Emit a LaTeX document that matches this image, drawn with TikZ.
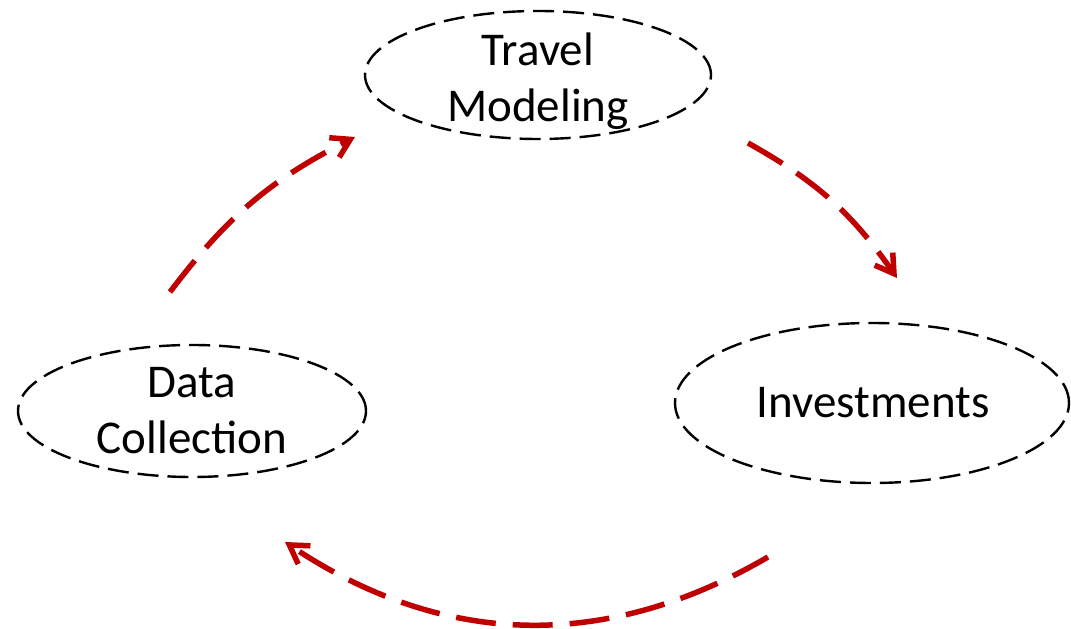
\documentclass[tikz,border=0pt]{standalone}
\usepackage{fontspec}
\setmainfont{Carlito}
\usetikzlibrary{shapes.geometric,arrows.meta}
\definecolor{cyclered}{RGB}{192,0,0}
\tikzset{
    oval/.style={draw=black, ellipse, line width=2.4pt, dash pattern=on 21pt off 9pt, inner sep=0pt},
    label text/.style={align=center, font=\fontsize{47}{56}\selectfont},
    cycle arrow/.style={draw=cyclered, line width=5.5pt, dash pattern=on 40pt off 17pt,
        -{Straight Barb[length=18pt,width=22pt]}}
}
\begin{document}
\begin{tikzpicture}[x=1pt,y=1pt]
        \useasboundingbox (0,0) rectangle (1071,629);
        % Ellipsen
        \node[oval, minimum width=346pt, minimum height=128pt] (travel) at (538,554) {};
        \node[oval, minimum width=348pt, minimum height=132pt] (data) at (192,218) {};
        \node[oval, minimum width=394pt, minimum height=160pt] (invest) at (872,226) {};
        % Texte
        \node[label text] (travel text) at (538,548) {Travel\\Modeling};
        \node[label text] (data text) at (192,218.5) {Data\\Collection};
        \node[label text] (invest text) at (873,226) {Investments};
        % Pfeile
        \coordinate (a1 start) at (170,337);
        \coordinate (a1 end) at (355,492);
        \coordinate (a2 start) at (748,486);
        \coordinate (a2 end) at (897,351);
        \coordinate (a3 start) at (768,72);
        \coordinate (a3 end) at (285,87);
        \draw[cycle arrow] (a1 start) to[bend left=13] (a1 end);
        \draw[cycle arrow] (a2 start) to[bend left=13] (a2 end);
        \draw[cycle arrow] (a3 start) to[bend left=32] (a3 end);
    \end{tikzpicture}
\end{document}
